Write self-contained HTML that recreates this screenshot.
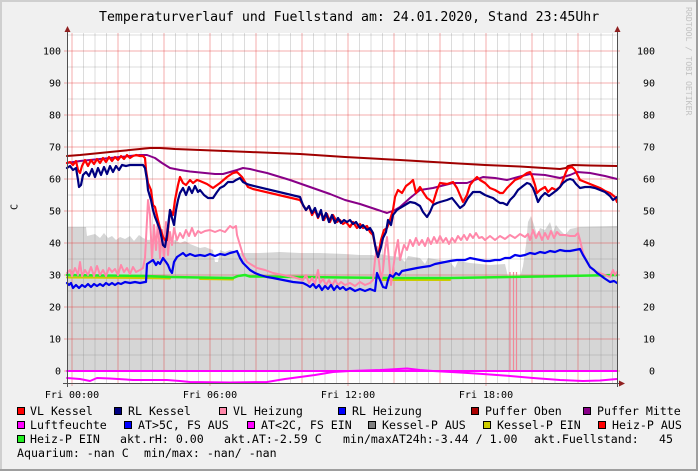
<!DOCTYPE html>
<html><head><meta charset="utf-8"><style>
html,body{margin:0;padding:0;background:#f0f0f0;}
svg{display:block;}
text{font-family:"DejaVu Sans Mono","Liberation Mono",monospace;fill:#000;}
.t{font-size:13.2px;}
.ax{font-size:10px;fill:#222;}
.lg{font-size:11.6px;}
</style></head><body>
<svg width="698" height="471" viewBox="0 0 698 471" xmlns="http://www.w3.org/2000/svg">
<rect x="0" y="0" width="698" height="471" fill="#f0f0f0"/>
<rect x="0" y="0" width="698" height="2" fill="#cfcfcf"/>
<rect x="0" y="0" width="2" height="471" fill="#cfcfcf"/>
<rect x="0" y="469" width="698" height="2" fill="#9e9e9e"/>
<rect x="696" y="0" width="2" height="471" fill="#9e9e9e"/>

<text class="t" x="99" y="21">Temperaturverlauf und Fuellstand am: 24.01.2020, Stand 23:45Uhr</text>
<text x="686" y="7" transform="rotate(90 686 7)" style="font-size:8.2px;fill:#c2c2c2">RRDTOOL / TOBI OETIKER</text>
<text x="17.5" y="207" transform="rotate(-90 17.5 207)" text-anchor="middle" style="font-size:10px">C</text>

<!-- plot bg -->
<rect x="67" y="33" width="550" height="350" fill="#ffffff"/>

<!-- gray area -->
<path fill="#d6d6d6" d="M67,371 L67,227 86,227 87,236 95,234 100,238 104,233 108,238 112,236 116,240 120,237 125,239 130,236 134,241 139,235 143,238 148,240 155,239 160,242 165,238 170,242 175,240 180,243 185,241 190,244 195,246 200,248 205,247 210,249 213,250 215,262 218,262 220,250 225,252 230,250 240,253 260,253 280,252 300,253 320,253 345,254 360,255 373,255 376,257 380,254 390,256 400,257 405,262 408,256 420,258 425,264 428,258 440,260 450,262 455,268 458,261 470,263 480,264 490,265 505,264 508,277 520,277 523,266 526,245 528,222 531,216 534,225 537,235 540,228 545,230 550,222 553,232 556,225 560,230 565,235 570,229 575,228 580,227 617,226 L617,371 Z"/>

<!-- grid -->
<g id="grid" stroke-width="1" shape-rendering="crispEdges">
<g stroke="rgba(128,128,128,0.28)">
<line x1="83.5" y1="33" x2="83.5" y2="383"/><line x1="95" y1="33" x2="95" y2="383"/><line x1="106.5" y1="33" x2="106.5" y2="383"/>
<line x1="129.5" y1="33" x2="129.5" y2="383"/><line x1="141" y1="33" x2="141" y2="383"/><line x1="152.5" y1="33" x2="152.5" y2="383"/>
<line x1="175.5" y1="33" x2="175.5" y2="383"/><line x1="187" y1="33" x2="187" y2="383"/><line x1="198.5" y1="33" x2="198.5" y2="383"/>
<line x1="221.5" y1="33" x2="221.5" y2="383"/><line x1="233" y1="33" x2="233" y2="383"/><line x1="244.5" y1="33" x2="244.5" y2="383"/>
<line x1="267.5" y1="33" x2="267.5" y2="383"/><line x1="279" y1="33" x2="279" y2="383"/><line x1="290.5" y1="33" x2="290.5" y2="383"/>
<line x1="313.5" y1="33" x2="313.5" y2="383"/><line x1="325" y1="33" x2="325" y2="383"/><line x1="336.5" y1="33" x2="336.5" y2="383"/>
<line x1="359.5" y1="33" x2="359.5" y2="383"/><line x1="371" y1="33" x2="371" y2="383"/><line x1="382.5" y1="33" x2="382.5" y2="383"/>
<line x1="405.5" y1="33" x2="405.5" y2="383"/><line x1="417" y1="33" x2="417" y2="383"/><line x1="428.5" y1="33" x2="428.5" y2="383"/>
<line x1="451.5" y1="33" x2="451.5" y2="383"/><line x1="463" y1="33" x2="463" y2="383"/><line x1="474.5" y1="33" x2="474.5" y2="383"/>
<line x1="497.5" y1="33" x2="497.5" y2="383"/><line x1="509" y1="33" x2="509" y2="383"/><line x1="520.5" y1="33" x2="520.5" y2="383"/>
<line x1="543.5" y1="33" x2="543.5" y2="383"/><line x1="555" y1="33" x2="555" y2="383"/><line x1="566.5" y1="33" x2="566.5" y2="383"/>
<line x1="589.5" y1="33" x2="589.5" y2="383"/><line x1="601" y1="33" x2="601" y2="383"/><line x1="612.5" y1="33" x2="612.5" y2="383"/>
<line x1="67" y1="35" x2="617" y2="35"/><line x1="67" y1="67" x2="617" y2="67"/><line x1="67" y1="99" x2="617" y2="99"/>
<line x1="67" y1="131" x2="617" y2="131"/><line x1="67" y1="163" x2="617" y2="163"/><line x1="67" y1="195" x2="617" y2="195"/>
<line x1="67" y1="227" x2="617" y2="227"/><line x1="67" y1="259" x2="617" y2="259"/><line x1="67" y1="291" x2="617" y2="291"/>
<line x1="67" y1="323" x2="617" y2="323"/><line x1="67" y1="355" x2="617" y2="355"/>
</g>
<g stroke="rgba(225,40,40,0.38)">
<line x1="72" y1="33" x2="72" y2="386"/><line x1="118" y1="33" x2="118" y2="383"/><line x1="164" y1="33" x2="164" y2="383"/>
<line x1="210" y1="33" x2="210" y2="386"/><line x1="256" y1="33" x2="256" y2="383"/><line x1="302" y1="33" x2="302" y2="383"/>
<line x1="348" y1="33" x2="348" y2="386"/><line x1="394" y1="33" x2="394" y2="383"/><line x1="440" y1="33" x2="440" y2="383"/>
<line x1="486" y1="33" x2="486" y2="386"/><line x1="532" y1="33" x2="532" y2="383"/><line x1="578" y1="33" x2="578" y2="383"/>
<line x1="64" y1="51" x2="620" y2="51"/><line x1="64" y1="83" x2="620" y2="83"/><line x1="64" y1="115" x2="620" y2="115"/>
<line x1="64" y1="147" x2="620" y2="147"/><line x1="64" y1="179" x2="620" y2="179"/><line x1="64" y1="211" x2="620" y2="211"/>
<line x1="64" y1="243" x2="620" y2="243"/><line x1="64" y1="275" x2="620" y2="275"/><line x1="64" y1="307" x2="620" y2="307"/>
<line x1="64" y1="339" x2="620" y2="339"/><line x1="64" y1="371" x2="620" y2="371"/>
</g>
</g>

<!-- pink spikes -->
<g stroke="#f08898" stroke-width="1.2">
<line x1="510" y1="272" x2="510" y2="371"/><line x1="513.5" y1="272" x2="513.5" y2="371"/><line x1="516.5" y1="272" x2="516.5" y2="371"/>
</g>

<g fill="none" stroke-linejoin="round" stroke-linecap="round">
<!-- yellow -->
<polyline stroke="#cccc00" stroke-width="2" points="67,277.5 140,278 170,278.5"/>
<polyline stroke="#cccc00" stroke-width="2" points="200,279 233,279.5"/>
<polyline stroke="#cccc00" stroke-width="2" points="380,280 450,280"/>
<!-- green -->
<polyline stroke="#22ee22" stroke-width="2.5" points="67,275 100,275.5 145,276 170,277 200,277.5 233,278 238,276 245,275 250,276.5 300,277 345,277.5 400,278 450,278 480,277.5 540,276.5 617,275"/>

<!-- Puffer Oben -->
<polyline stroke="#a00000" stroke-width="2" points="67,156 80,155 100,153 120,151 140,149 150,148 160,148 175,149 200,150 250,152 300,154 345,157 400,160 450,163 485,165 520,166.5 560,169 566,168 568,166 573,165 590,165.5 617,166"/>
<!-- Puffer Mitte -->
<polyline stroke="#880088" stroke-width="2" points="67,163 80,161 100,159 120,157 140,155 147,155 155,158 162,163 170,168 180,170 190,171.5 205,173 215,174 223,174 230,172 237,170 243,168 250,169 258,171 267,173 290,180 310,187 330,194 345,200 360,204 375,209 387,213 395,210 400,207 410,198 420,190 433,188 445,185 453,183 467,183 475,180 483,177 495,178 507,180 518,177 530,174 545,175 560,178 570,175 577,172 590,173 605,176 617,179"/>

<!-- VL Heizung -->
<polyline stroke="#ff88aa" stroke-width="2" points="67,273 70,270 72,276 75,268 78,275 80,262 82,276 85,270 88,275 91,267 94,276 97,266 100,275 103,270 106,276 109,268 112,272 115,269 118,275 121,265 124,272 127,268 130,274 133,267 136,272 140,270 143,268 145,258 147,220 148,200 150,215 152,260 154,225 156,250 158,220 160,258 162,230 164,260 166,222 168,255 170,232 172,245 174,228 177,240 180,233 183,238 186,230 189,236 192,228 195,236 198,231 201,233 205,231 210,230 215,232 220,230 225,232 230,226 233,228 236,226 237,235 240,245 243,255 247,262 252,265 257,268 265,270 273,273 283,275 293,277 303,280 306,275 309,283 312,278 315,284 318,270 320,283 323,279 326,285 329,280 332,286 335,280 338,285 341,282 345,285 350,283 355,286 360,282 365,285 370,283 373,280 375,260 377,247 379,262 381,280 383,270 385,250 387,237 389,260 391,285 393,270 395,255 398,240 400,260 402,252 404,245 407,250 410,240 413,246 416,238 419,245 422,240 425,246 428,238 431,244 434,237 437,243 440,236 443,242 446,238 449,244 452,238 455,242 458,236 461,240 464,235 467,240 470,234 473,238 476,233 479,238 482,237 485,240 490,236 495,240 500,236 505,239 510,235 515,238 520,234 525,237 528,234 530,240 533,230 536,238 539,232 542,240 545,233 548,239 551,231 554,238 557,232 560,235 565,235 570,236 575,236 578,233 580,240 583,253 586,260 590,267 595,271 600,273 605,275 610,277 613,270 615,275 617,272"/>

<!-- RL Heizung -->
<polyline stroke="#0000ee" stroke-width="2.2" points="67,283 69,285 71,283 73,288 76,285 79,288 82,285 85,287 88,284 91,287 94,284 97,286 100,284 103,286 106,283 109,285 112,283 115,285 118,283 121,284 125,282 130,283 135,282 140,283 145,282 146,282 147,264 150,262 153,260 156,265 158,262 160,264 163,258 166,262 168,265 170,270 172,273 174,262 177,257 180,255 183,253 186,256 190,254 195,256 200,255 205,256 210,254 215,256 220,254 225,255 230,253 234,252 237,251 240,258 243,263 247,267 250,270 255,273 260,275 267,277 273,278 283,280 293,282 303,283 307,285 310,287 313,284 316,288 319,285 322,290 325,286 328,289 331,285 334,290 337,286 340,289 343,287 346,290 350,288 355,291 360,289 365,291 370,289 375,291 377,273 380,280 383,287 386,288 388,280 390,275 393,277 396,273 399,275 402,271 407,270 412,269 417,268 423,267 430,266 435,264 440,263 445,262 450,261 457,260 465,260 470,258 475,259 480,260 485,261 490,261 495,260 500,260 505,258 510,258 515,255 520,256 525,255 530,253 535,254 540,252 545,253 550,251 555,252 560,250 565,251 570,251 575,250 580,249 583,255 586,260 590,267 594,270 597,273 600,275 604,278 607,280 610,282 614,281 617,283"/>

<!-- VL Kessel -->
<polyline stroke="#ff0000" stroke-width="2.2" points="67,163 70,162 73,165 76,161 78,170 80,173 82,166 85,160 88,166 91,160 94,164 97,159 100,163 103,158 106,162 109,157 112,161 115,157 118,160 121,156 124,159 127,155 130,158 133,156 136,155 140,156 143,156 145,158 146,170 148,183 151,190 153,205 155,207 158,220 160,228 163,237 165,240 167,240 170,210 173,215 175,200 178,185 180,177 183,183 186,185 190,180 193,183 197,180 200,181 207,184 213,188 220,183 227,177 233,173 237,172 242,177 248,187 253,189 300,200 303,205 306,210 309,206 312,215 315,210 318,218 321,212 324,220 327,214 330,222 333,215 337,222 340,220 343,224 346,222 350,227 353,222 357,228 360,224 363,228 367,226 370,232 373,235 375,245 378,257 381,240 384,230 387,228 390,220 393,210 395,197 398,190 402,193 406,186 410,183 413,180 416,193 420,187 423,192 427,198 430,200 433,203 437,190 440,183 447,184 453,182 457,188 460,195 463,202 467,195 470,185 474,180 477,177 480,180 485,183 490,188 495,190 500,193 503,193 507,188 510,185 515,180 520,178 527,173 530,172 532,176 535,185 537,193 540,190 545,187 548,192 552,188 556,190 560,187 563,180 566,172 568,168 572,167 575,170 578,176 580,180 585,182 590,184 595,186 600,188 605,191 610,193 615,197 617,202"/>

<!-- RL Kessel -->
<polyline stroke="#000080" stroke-width="2.2" points="67,168 70,166 73,170 76,168 78,180 79,187 81,185 83,175 86,172 89,176 92,169 95,177 98,168 101,175 104,167 107,174 110,166 113,172 116,166 119,170 122,165 126,166 130,165 135,165 140,165 143,165 145,168 147,180 148,190 151,200 153,210 155,217 157,222 160,230 163,245 165,247 167,235 170,210 172,218 174,225 176,210 178,200 180,193 183,188 186,195 189,187 192,193 195,186 198,192 200,190 204,195 208,198 213,198 217,192 220,188 224,186 228,182 233,182 236,180 240,178 243,182 247,184 250,185 300,197 303,205 306,210 309,206 312,213 315,208 318,217 321,210 323,220 326,213 329,222 332,215 335,223 338,218 341,223 344,220 347,222 350,220 353,224 356,222 360,228 363,225 367,230 370,228 373,233 376,250 378,257 381,247 383,238 386,232 388,220 391,225 393,215 397,210 400,208 405,205 410,202 415,203 420,206 423,212 427,217 430,212 433,205 437,203 440,202 447,200 452,198 456,203 460,208 464,205 468,198 473,192 480,192 485,195 490,197 493,198 497,201 500,203 503,203 507,205 510,200 514,196 518,190 523,186 527,183 530,184 533,188 536,196 538,202 541,197 545,193 549,196 553,193 557,190 560,187 563,183 567,180 570,179 573,180 576,184 580,188 585,187 590,187 595,188 600,190 605,192 610,196 613,200 617,197"/>

<!-- Luftfeuchte 0 line -->
<line x1="67" y1="371" x2="617" y2="371" stroke="#ff00ff" stroke-width="2"/>
<!-- AT line -->
<polyline stroke="#ff00ff" stroke-width="2" points="67,378 80,379 90,381 97,378 110,378.5 133,380 167,380 180,381 190,382 230,382.5 267,382 285,379 300,377 315,375 333,372 350,371 380,370 407,368.5 420,370 433,371 460,372.5 483,374 510,376 533,378 560,380 583,381 600,380.5 617,379"/>
</g>

<!-- axes -->
<g stroke="#505050" stroke-width="1" shape-rendering="crispEdges">
<line x1="67.5" y1="30" x2="67.5" y2="387"/>
<line x1="617.5" y1="30" x2="617.5" y2="387"/>
<line x1="63" y1="383.5" x2="620" y2="383.5"/>
</g>
<polygon points="67.5,26 64.5,32 70.5,32" fill="#902020"/>
<polygon points="617.5,26 614.5,32 620.5,32" fill="#902020"/>
<polygon points="625,383.5 619,380.5 619,386.5" fill="#902020"/>

<!-- y labels -->
<g class="ax" text-anchor="end">
<text x="61" y="54.6">100</text><text x="61" y="86.6">90</text><text x="61" y="118.6">80</text>
<text x="61" y="150.6">70</text><text x="61" y="182.6">60</text><text x="61" y="214.6">50</text>
<text x="61" y="246.6">40</text><text x="61" y="278.6">30</text><text x="61" y="310.6">20</text>
<text x="61" y="342.6">10</text><text x="61" y="374.6">0</text>
<text x="655" y="54.6">100</text><text x="655" y="86.6">90</text><text x="655" y="118.6">80</text>
<text x="655" y="150.6">70</text><text x="655" y="182.6">60</text><text x="655" y="214.6">50</text>
<text x="655" y="246.6">40</text><text x="655" y="278.6">30</text><text x="655" y="310.6">20</text>
<text x="655" y="342.6">10</text><text x="655" y="374.6">0</text>
</g>
<g class="ax" text-anchor="middle">
<text x="72" y="398">Fri 00:00</text><text x="210" y="398">Fri 06:00</text>
<text x="348" y="398">Fri 12:00</text><text x="486" y="398">Fri 18:00</text>
</g>

<!-- legend -->
<g stroke="#000" stroke-width="1" shape-rendering="crispEdges">
<rect x="17.5" y="407.5" width="7" height="7" fill="#ff0000"/>
<rect x="114.5" y="407.5" width="7" height="7" fill="#000080"/>
<rect x="219.5" y="407.5" width="7" height="7" fill="#ff88aa"/>
<rect x="338.5" y="407.5" width="7" height="7" fill="#0000ff"/>
<rect x="471.5" y="407.5" width="7" height="7" fill="#aa0000"/>
<rect x="583.5" y="407.5" width="7" height="7" fill="#880088"/>
<rect x="17.5" y="421.5" width="7" height="7" fill="#ff00ff"/>
<rect x="124.5" y="421.5" width="7" height="7" fill="#0000ff"/>
<rect x="247.5" y="421.5" width="7" height="7" fill="#ff00ff"/>
<rect x="368.5" y="421.5" width="7" height="7" fill="#808080"/>
<rect x="483.5" y="421.5" width="7" height="7" fill="#cccc00"/>
<rect x="598.5" y="421.5" width="7" height="7" fill="#ff0000"/>
<rect x="17.5" y="435.5" width="7" height="7" fill="#22ee22"/>
</g>
<g class="lg">
<text x="30" y="415">VL Kessel</text>
<text x="128" y="415">RL Kessel</text>
<text x="233" y="415">VL Heizung</text>
<text x="352" y="415">RL Heizung</text>
<text x="485" y="415">Puffer Oben</text>
<text x="597" y="415">Puffer Mitte</text>
<text x="30" y="429">Luftfeuchte</text>
<text x="138" y="429">AT&gt;5C, FS AUS</text>
<text x="261" y="429">AT&lt;2C, FS EIN</text>
<text x="382" y="429">Kessel-P AUS</text>
<text x="497" y="429">Kessel-P EIN</text>
<text x="612" y="429">Heiz-P AUS</text>
<text x="30" y="443">Heiz-P EIN</text>
<text x="120" y="443">akt.rH: 0.00</text>
<text x="224" y="443">akt.AT:-2.59 C</text>
<text x="343" y="443">min/maxAT24h:-3.44 / 1.00</text>
<text x="534" y="443">akt.Fuellstand:</text>
<text x="659" y="443">45</text>
<text x="17" y="457">Aquarium: -nan C</text>
<text x="144" y="457">min/max: -nan/ -nan</text>
</g>
</svg>
</body></html>
